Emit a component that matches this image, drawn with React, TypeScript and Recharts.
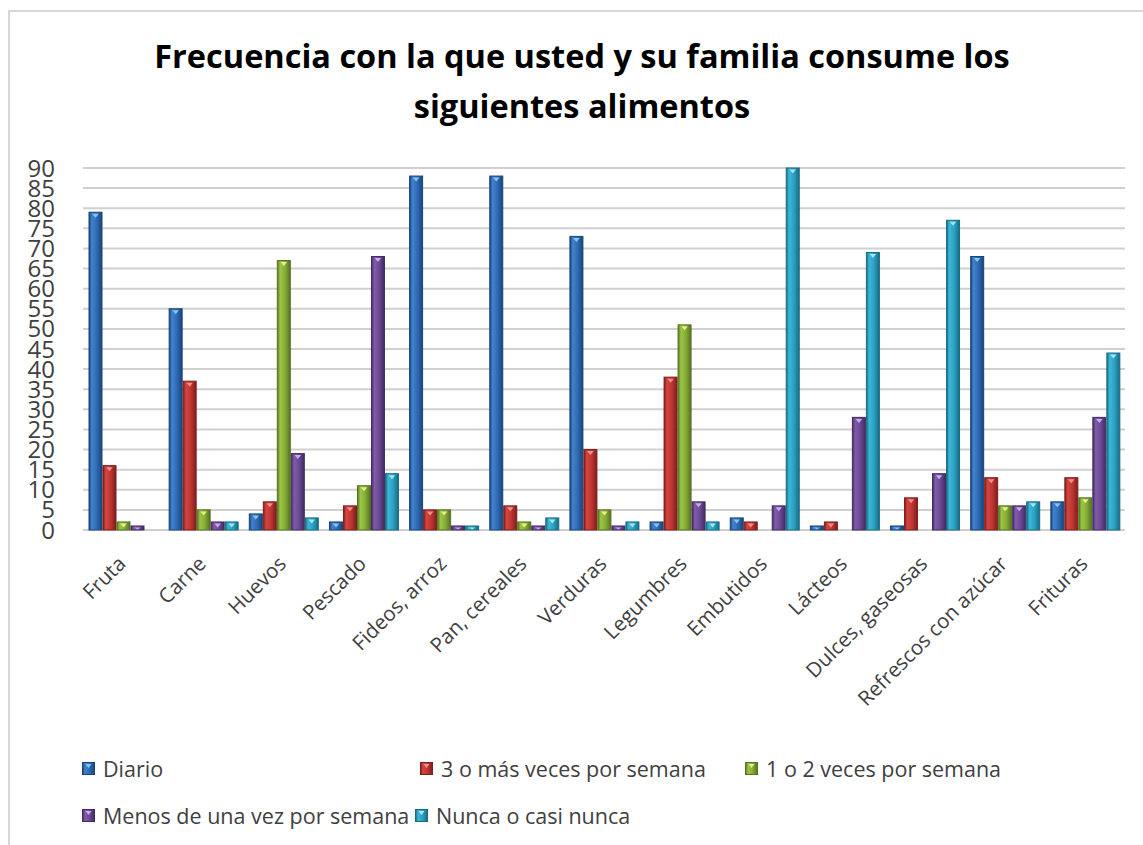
import { BarChart, Bar, XAxis, YAxis, CartesianGrid } from "recharts";

// categorías del eje X
const categorias = [
  "Fruta",
  "Carne",
  "Huevos",
  "Pescado",
  "Fideos, arroz",
  "Pan, cereales",
  "Verduras",
  "Legumbres",
  "Embutidos",
  "Lácteos",
  "Dulces, gaseosas",
  "Refrescos con azúcar",
  "Frituras",
];

const diario = [79, 55, 4, 2, 88, 88, 73, 2, 3, 1, 1, 68, 7];
const tresOMas = [16, 37, 7, 6, 5, 6, 20, 38, 2, 2, 8, 13, 13];
const unoODos = [2, 5, 67, 11, 5, 2, 5, 51, 0, 0, 0, 6, 8];
const menosDeUna = [1, 2, 19, 68, 1, 1, 1, 7, 6, 28, 14, 6, 28];
const nunca = [0, 2, 3, 14, 1, 3, 2, 2, 90, 69, 77, 7, 44];

const yTicks = [0, 5, 10, 15, 20, 25, 30, 35, 40, 45, 50, 55, 60, 65, 70, 75, 80, 85, 90];

const titulo = [
  "Frecuencia con la que usted y su familia consume los",
  "siguientes alimentos",
];

const series = [
  { key: "diario", name: "Diario", values: diario, base: "#2d6ab4", light: "#4283cf", edge: "#1a4478", tip: "#86c6f6" },
  { key: "tresOMas", name: "3 o más veces por semana", values: tresOMas, base: "#bd3431", light: "#d4463f", edge: "#7c1e1c", tip: "#f3908c" },
  { key: "unoODos", name: "1 o 2 veces por semana", values: unoODos, base: "#86ac35", light: "#9cc646", edge: "#567222", tip: "#e6f08c" },
  { key: "menosDeUna", name: "Menos de una vez por semana", values: menosDeUna, base: "#6b4993", light: "#805caa", edge: "#432b61", tip: "#c9abef" },
  { key: "nunca", name: "Nunca o casi nunca", values: nunca, base: "#2aa0c2", light: "#3db6d7", edge: "#196b84", tip: "#9ee8f7" },
];

const data = categorias.map((cat, i) => {
  const row: any = { cat };
  series.forEach((s) => {
    row[s.key] = s.values[i];
  });
  return row;
});

// posición de cada entrada de la leyenda (como la envuelve Excel)
const legendSlots = [
  { left: 82, top: 768 },
  { left: 420, top: 768 },
  { left: 745, top: 768 },
  { left: 82, top: 815 },
  { left: 415, top: 815 },
];

const FONT = "'Open Sans', 'Noto Sans', sans-serif";

const GradDef = ({ s }: { s: any }) => (
  <linearGradient id={`g-${s.key}`} x1="0" y1="0" x2="1" y2="0">
    <stop offset="0%" stopColor={s.edge} />
    <stop offset="22%" stopColor={s.light} />
    <stop offset="60%" stopColor={s.base} />
    <stop offset="100%" stopColor={s.edge} />
  </linearGradient>
);

const makeBar = (s: any) => (props: any) => {
  const { x, y, width, height } = props;
  if (!height || height <= 0) return <g />;
  const cx = x + width / 2;
  const tw = Math.min(width * 0.5, 7);
  const th = Math.min(4, Math.max(height - 2, 1));
  return (
    <g>
      <defs>
        <GradDef s={s} />
      </defs>
      <rect x={x} y={y} width={width} height={height} fill={`url(#g-${s.key})`} stroke={s.edge} strokeWidth={1} />
      <polygon
        points={`${cx - tw / 2},${y + 1.5} ${cx + tw / 2},${y + 1.5} ${cx},${y + 1.5 + th}`}
        fill={s.tip}
      />
    </g>
  );
};

const CatTick = (props: any) => {
  const { x, payload } = props;
  return (
    <g transform={`translate(${x + 4},565)`}>
      <text transform="rotate(-45)" textAnchor="end" fontSize={20.5} fontFamily={FONT} fill="#404040">
        {payload.value}
      </text>
    </g>
  );
};

const LegendMarker = ({ s }: { s: any }) => (
  <svg width={13} height={13} style={{ display: "block" }}>
    <defs>
      <GradDef s={s} />
    </defs>
    <rect x={0.5} y={0.5} width={12} height={12} fill={`url(#g-${s.key})`} stroke={s.edge} />
    <polygon points="3.5,2 9.5,2 6.5,6" fill={s.tip} />
  </svg>
);

export default function App() {
  return (
    <div style={{ position: "absolute", left: 0, top: 0, width: 1143, height: 845, background: "#fff", overflow: "hidden" }}>
      <div
        style={{
          position: "absolute",
          left: 8,
          top: 10,
          width: 1200,
          height: 900,
          borderLeft: "2px solid #d6d6d6",
          borderTop: "2px solid #d6d6d6",
        }}
      />
      <svg width={1143} height={140} style={{ position: "absolute", left: 0, top: 0 }}>
        {titulo.map((t, i) => (
          <text
            key={i}
            x={582}
            y={68 + i * 50}
            textAnchor="middle"
            fontFamily={FONT}
            fontWeight="bold"
            fontSize={32.5}
            fill="#000"
          >
            {t}
          </text>
        ))}
      </svg>
      <div style={{ position: "absolute", left: 0, top: 0 }}>
        <BarChart
          width={1143}
          height={845}
          data={data}
          margin={{ top: 168, right: 18, left: 0, bottom: 115 }}
          barCategoryGap={6}
          barGap={1}
        >
          <CartesianGrid vertical={false} stroke="#d0d0d0" strokeWidth={2} />
          <XAxis
            dataKey="cat"
            height={200}
            interval={0}
            axisLine={false}
            tickLine={false}
            tick={<CatTick />}
          />
          <YAxis
            type="number"
            domain={[0, 90]}
            ticks={yTicks}
            interval={0}
            width={83}
            axisLine={false}
            tickLine={false}
            tickSize={6}
            tickMargin={22}
            tick={{ fontSize: 24, fontFamily: FONT, fill: "#404040" }}
          />
          {series.map((s) => (
            <Bar key={s.key} dataKey={s.key} name={s.name} shape={makeBar(s)} isAnimationActive={false} />
          ))}
        </BarChart>
      </div>
      {series.map((s, i) => (
        <div
          key={s.key}
          style={{
            position: "absolute",
            left: legendSlots[i].left,
            top: legendSlots[i].top - 15,
            height: 30,
            display: "flex",
            alignItems: "center",
            gap: 8,
            fontFamily: FONT,
            fontSize: 21.5,
            color: "#404040",
            whiteSpace: "nowrap",
          }}
        >
          <LegendMarker s={s} />
          <span>{s.name}</span>
        </div>
      ))}
    </div>
  );
}
